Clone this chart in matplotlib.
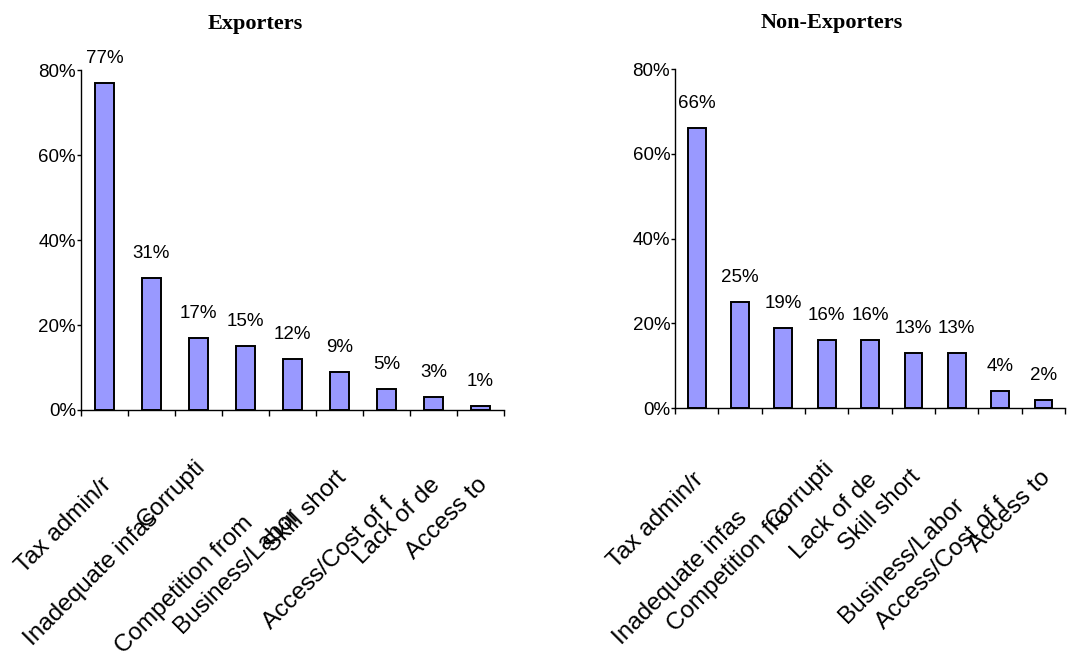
import matplotlib.pyplot as plt
from matplotlib.ticker import FixedLocator, FuncFormatter

plt.rcParams.update(
    {
        "font.family": ["Liberation Sans", "DejaVu Sans"],
        "axes.linewidth": 1.0,
    }
)

# Exporters panel (category labels truncated as printed)
exp_labels = [
    "Tax admin/r",
    "Inadequate infas",
    "Corrupti",
    "Competition from",
    "Business/Labor",
    "Skill short",
    "Access/Cost of f",
    "Lack of de",
    "Access to",
]
exp_values = [77, 31, 17, 15, 12, 9, 5, 3, 1]

# Non-exporters panel
non_labels = [
    "Tax admin/r",
    "Inadequate infas",
    "Competition fro",
    "Corrupti",
    "Lack of de",
    "Skill short",
    "Business/Labor",
    "Access/Cost of f",
    "Access to",
]
non_values = [66, 25, 19, 16, 16, 13, 13, 4, 2]

y_ticks = [0, 20, 40, 60, 80]

# how far below the axis each rotated label ends (pixels)
exp_drop = [64, 98, 46, 102, 94, 57, 84, 64, 64]
non_drop = [61, 99, 96, 49, 61, 58, 86, 86, 59]

BAR_COLOR = "#9999FF"
TICK_FS = 13.5
LABEL_FS = 17.5
TITLE_FS = 16


def draw_panel(ax, labels, values, drops):
    xs = list(range(len(values)))
    bars = ax.bar(xs, values, width=0.41, color=BAR_COLOR, edgecolor="black", linewidth=1.4)
    ax.set_xlim(-0.5, len(values) - 0.5)
    ax.set_ylim(0, 80)
    for spine in ("top", "right"):
        ax.spines[spine].set_visible(False)

    ax.yaxis.set_major_locator(FixedLocator(y_ticks))
    ax.yaxis.set_major_formatter(FuncFormatter(lambda v, _: f"{v:.0f}%"))
    ax.tick_params(axis="y", length=3, width=1, pad=0.5, labelsize=TICK_FS, direction="out")

    ax.set_xticks([i - 0.5 for i in range(len(values) + 1)])
    ax.set_xticklabels([])
    ax.tick_params(axis="x", length=4.5, width=1, direction="out")

    for bar, v in zip(bars, values):
        ax.annotate(
            f"{v}%",
            xy=(bar.get_x() + bar.get_width() / 2, v),
            xytext=(0, 20),
            textcoords="offset pixels",
            ha="center",
            va="baseline",
            fontsize=TICK_FS,
            annotation_clip=False,
        )

    for i, (lab, d) in enumerate(zip(labels, drops)):
        ax.annotate(
            lab,
            xy=(i, 0),
            xycoords=ax.get_xaxis_transform(),
            xytext=(-4, -d),
            textcoords="offset pixels",
            ha="right",
            va="top",
            rotation=45,
            rotation_mode="anchor",
            fontsize=LABEL_FS,
            annotation_clip=False,
        )


fig = plt.figure(figsize=(10.78, 6.56), dpi=100)
ax_exp = fig.add_axes([0.0751, 0.375, 0.3924, 0.518])
ax_non = fig.add_axes([0.6262, 0.378, 0.3618, 0.5168])

draw_panel(ax_exp, exp_labels, exp_values, exp_drop)
draw_panel(ax_non, non_labels, non_values, non_drop)

fig.text(255 / 1078, 1 - 29 / 656, "Exporters", ha="center", va="baseline",
         fontsize=TITLE_FS, fontweight="bold", family="Liberation Serif")
fig.text(832 / 1078, 1 - 28 / 656, "Non-Exporters", ha="center", va="baseline",
         fontsize=TITLE_FS, fontweight="bold", family="Liberation Serif")

fig.savefig("out.png", dpi=100)
